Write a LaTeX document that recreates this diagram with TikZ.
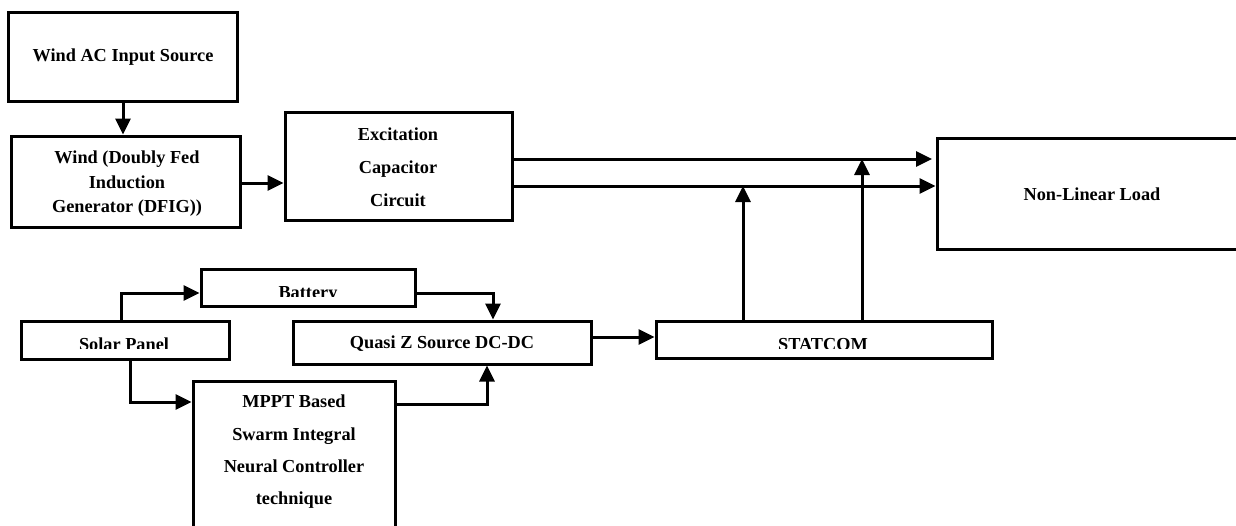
\documentclass[tikz,border=0pt]{standalone}
\usepackage{fontspec}
\setmainfont{Liberation Serif}
\usetikzlibrary{arrows.meta,fit}
\begin{document}
\begin{tikzpicture}[x=1pt,y=-1pt,
  box/.style={draw, line width=3pt, inner sep=0pt},
  lbl/.style={inner sep=0pt, align=center,
    font={\bfseries\fontsize{18.3}{24}\selectfont}},
  conn/.style={line width=3pt, -{Triangle[length=16pt,width=15pt]}}]
\useasboundingbox (0,0) rectangle (1236,525);

% wind branch
\node[box, fit={(8,12) (237,101)}] (ac) {};
\node[lbl] (ac-t) at (123,57) {Wind AC Input Source};
\node[box, fit={(11,136) (240,227)}] (dfig) {};
\node[lbl, font={\bfseries\fontsize{18.3}{24.5}\selectfont}] (dfig-t) at (127,184)
  {Wind (Doubly Fed\\Induction\\Generator (DFIG))};
\node[box, fit={(285,112) (512,220)}] (exc) {};
\node[lbl, font={\bfseries\fontsize{18.3}{33}\selectfont}] (exc-t) at (398,167)
  {Excitation\\Capacitor\\Circuit};
\node[box, fit={(937,138) (1247,249)}] (load) {};
\node[lbl] (load-t) at (1092,194) {Non-Linear Load};

% solar branch
\node[box, fit={(201,269) (415,306)}] (bat) {};
\node[box, fit={(21,321) (229,359)}] (solar) {};
\node[box, fit={(293,321) (591,364)}] (quasi) {};
\node[lbl] (quasi-t) at (442,344) {Quasi Z Source DC-DC};
\node[box, fit={(656,321) (992,358)}] (stat) {};
\node[box, fit={(193,381) (395,545)}] (mppt) {};
\node[lbl, font={\bfseries\fontsize{18.3}{32.3}\selectfont}] (mppt-t) at (294,452)
  {MPPT Based\\Swarm Integral\\Neural Controller\\technique};

% labels cut off at the bottom of their text frames
\begin{scope}
  \clip (201,270) rectangle (415,296);
  \node[lbl, anchor=base] (bat-t) at (308,298.5) {Battery};
\end{scope}
\begin{scope}
  \clip (21,322) rectangle (229,348);
  \node[lbl, anchor=base] (solar-t) at (124,350.5) {Solar Panel};
\end{scope}
\begin{scope}
  \clip (656,322) rectangle (992,348);
  \node[lbl, anchor=base] (stat-t) at (823,350.5) {STATCOM};
\end{scope}

% junction points
\coordinate (up) at (0,159);
\coordinate (lo) at (0,186);
\coordinate (j1) at (743,186);
\coordinate (j2) at (862,159);
\coordinate (sb) at (121,293);
\coordinate (bq) at (493,293);
\coordinate (sm) at (130,402);
\coordinate (mq) at (487,404);
\coordinate (qs) at (0,337);
\coordinate (ltip) at (932,159);

% connectors
\draw[conn] (ac.south -| 123,0) -- (dfig.north -| 123,0);
\draw[conn] (dfig.east |- 0,183) -- (exc.west |- 0,183);
\draw[conn] (exc.east |- up) -- (ltip);
\draw[conn] (exc.east |- lo) -- (load.west |- lo);
\draw[conn] (stat.north -| j1) -- (j1);
\draw[conn] (stat.north -| j2) -- (j2);
\draw[conn] (solar.north -| sb) |- (bat.west |- sb);
\draw[conn] (bat.east |- bq) -| (quasi.north -| bq);
\draw[conn] (solar.south -| sm) |- (mppt.west |- sm);
\draw[conn] (mppt.east |- mq) -| (quasi.south -| mq);
\draw[conn] (quasi.east |- qs) -- (stat.west |- qs);
\end{tikzpicture}
\end{document}
